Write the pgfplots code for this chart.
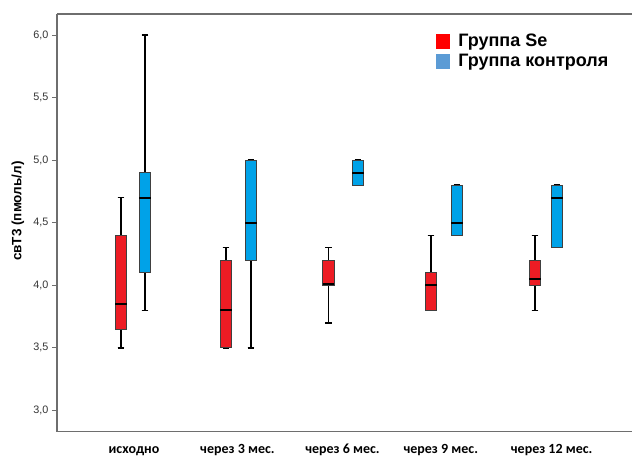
\documentclass[border=0pt]{standalone}
\usepackage{pgfplots}
\pgfplotsset{compat=1.18}
\usepgfplotslibrary{statistics}
\usepackage{fontspec}
\setmainfont{Liberation Sans}
\newfontfamily\calfont{Carlito}
\definecolor{sered}{HTML}{ED1C24}
\definecolor{ctblue}{HTML}{00A2E8}
\definecolor{legred}{HTML}{FF0000}
\definecolor{legblue}{HTML}{5B9BD5}
\definecolor{axgray}{HTML}{6E6E6E}
\begin{document}
\begin{tikzpicture}[x=1pt,y=1pt]
\useasboundingbox (0,0) rectangle (632,456);
\begin{axis}[
  at={(57pt,24.3pt)}, anchor=south west, scale only axis,
  width=575pt, height=417.7pt,
  xmin=-0.736, xmax=4.833, ymin=2.83, ymax=6.168,
  axis x line=box, axis y line=left,
  axis line style={-, draw=axgray, line width=1.3pt},
  xtick={0.01,1.012,2.029,2.981,4.055},
  xticklabels={исходно, через 3 мес., через 6 мес., через 9 мес., через 12 мес.},
  major x tick style={draw=none},
  ytick={3,3.5,4,4.5,5,5.5,6},
  ytick pos=left, tick align=outside, major tick length=5pt,
  major y tick style={draw=axgray, line width=1pt},
  /pgf/number format/assume math mode=true,
  yticklabel style={/pgf/number format/.cd, fixed, fixed zerofill, precision=1, use comma, /tikz/.cd, font=\fontsize{10.8}{12}\selectfont, text=black!80},
  xticklabel style={anchor=base, inner sep=0pt, yshift=-16.5pt, font=\calfont\bfseries\fontsize{14}{15}\selectfont, text=black},
  ylabel={свТ3 (пмоль/л)},
  ylabel style={at={(rel axis cs:-0.068,0.528)}, anchor=center, font=\bfseries\fontsize{13.5}{15}\selectfont},
  legend style={at={(0.659,0.957)}, anchor=north west, draw=none, fill=none, font=\bfseries\fontsize{18}{21}\selectfont, row sep=2pt, inner sep=0pt, cells={anchor=west}},
  legend image code/.code={\fill[#1, draw=none] (0pt,-7.5pt) rectangle (14pt,7.5pt); \path (20pt,0pt);},
  boxplot/draw direction=y,
  boxplot/box extend=0.11,
  boxplot/whisker extend=0.065,
  boxplot/every box/.style={draw=black!75, line width=0.8pt},
  boxplot/every whisker/.style={black, line width=1.4pt},
  boxplot/every median/.style={black, line width=2pt},
]
\addlegendimage{fill=legred}
\addlegendentry{Группа Se}
\addlegendimage{fill=legblue}
\addlegendentry{Группа контроля}

% Group Se (red)
\addplot[fill=sered, forget plot, boxplot prepared={draw position=-0.116, lower whisker=3.5, lower quartile=3.65, median=3.85, upper quartile=4.4, upper whisker=4.7}] coordinates {};
\addplot[fill=sered, forget plot, boxplot prepared={draw position=0.901, lower whisker=3.5, lower quartile=3.5, median=3.8, upper quartile=4.2, upper whisker=4.3}] coordinates {};
\addplot[fill=sered, forget plot, boxplot prepared={draw position=1.894, lower whisker=3.7, lower quartile=4.0, median=4.01, upper quartile=4.2, upper whisker=4.3}] coordinates {};
\addplot[fill=sered, forget plot, boxplot prepared={draw position=2.886, lower whisker=3.8, lower quartile=3.8, median=4.0, upper quartile=4.1, upper whisker=4.4}] coordinates {};
\addplot[fill=sered, forget plot, boxplot prepared={draw position=3.894, lower whisker=3.8, lower quartile=4.0, median=4.05, upper quartile=4.2, upper whisker=4.4}] coordinates {};

% Control group (blue)
\addplot[fill=ctblue, forget plot, boxplot prepared={draw position=0.116, lower whisker=3.8, lower quartile=4.1, median=4.7, upper quartile=4.9, upper whisker=6.0}] coordinates {};
\addplot[fill=ctblue, forget plot, boxplot prepared={draw position=1.143, lower whisker=3.5, lower quartile=4.2, median=4.5, upper quartile=5.0, upper whisker=5.0}] coordinates {};
\addplot[fill=ctblue, forget plot, boxplot prepared={draw position=2.179, lower whisker=4.8, lower quartile=4.8, median=4.9, upper quartile=5.0, upper whisker=5.0}] coordinates {};
\addplot[fill=ctblue, forget plot, boxplot prepared={draw position=3.138, lower whisker=4.4, lower quartile=4.4, median=4.5, upper quartile=4.8, upper whisker=4.8}] coordinates {};
\addplot[fill=ctblue, forget plot, boxplot prepared={draw position=4.107, lower whisker=4.3, lower quartile=4.3, median=4.7, upper quartile=4.8, upper whisker=4.8}] coordinates {};
\end{axis}
\end{tikzpicture}
\end{document}
